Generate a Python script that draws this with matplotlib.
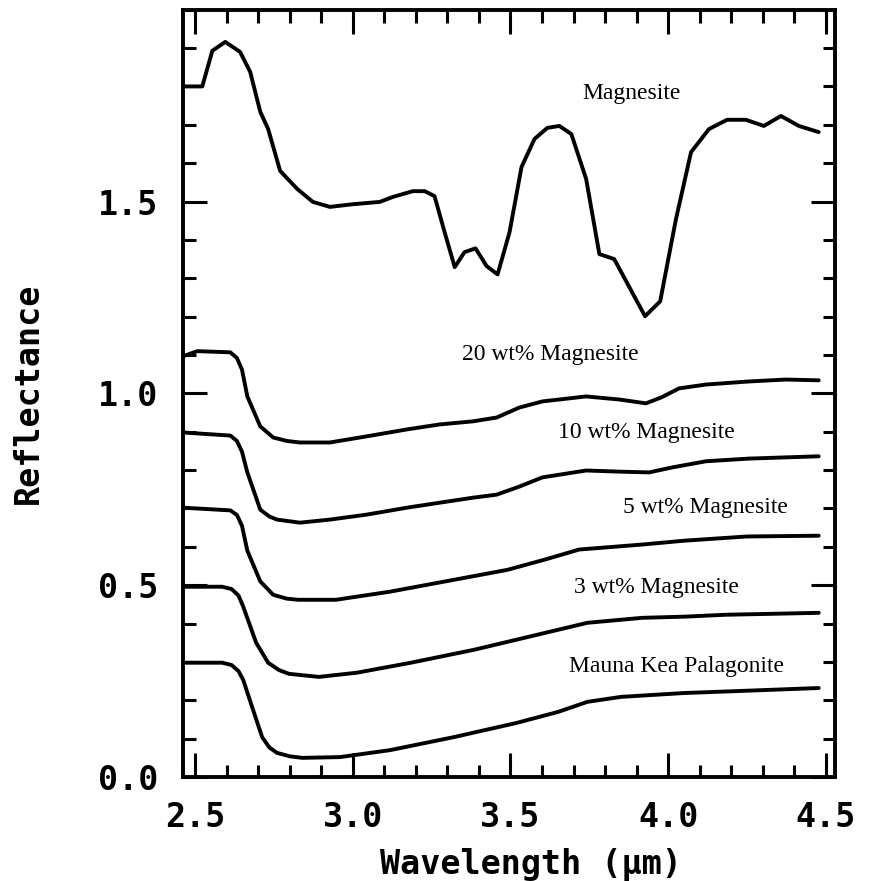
import matplotlib
matplotlib.use("Agg")
import matplotlib.pyplot as plt
from matplotlib.ticker import MultipleLocator

# spectra (wavelength in um, reflectance offset)
mag_x = [2.462, 2.522, 2.554, 2.595, 2.642, 2.674, 2.706, 2.731, 2.769, 2.823, 2.873,
         2.927, 3.0, 3.085, 3.127, 3.19, 3.228, 3.259, 3.291, 3.323, 3.354, 3.389,
         3.424, 3.459, 3.497, 3.535, 3.576, 3.617, 3.655, 3.693, 3.74, 3.782, 3.829,
         3.927, 3.975, 4.025, 4.073, 4.13, 4.187, 4.247, 4.304, 4.358, 4.415, 4.478]
mag_y = [1.80, 1.80, 1.893, 1.916, 1.89, 1.838, 1.734, 1.689, 1.58, 1.533, 1.499,
         1.486, 1.493, 1.499, 1.512, 1.527, 1.527, 1.514, 1.42, 1.329, 1.368, 1.378,
         1.332, 1.31, 1.42, 1.59, 1.663, 1.692, 1.697, 1.676, 1.559, 1.363, 1.35,
         1.201, 1.24, 1.454, 1.629, 1.689, 1.713, 1.713, 1.697, 1.723, 1.697, 1.681]

w20_x = [2.462, 2.506, 2.611, 2.632, 2.648, 2.665, 2.706, 2.747, 2.79, 2.832, 2.927,
         3.044, 3.171, 3.275, 3.38, 3.456, 3.528, 3.601, 3.74, 3.845, 3.93, 3.98,
         4.035, 4.12, 4.256, 4.373, 4.478]
w20_y = [1.097, 1.11, 1.107, 1.092, 1.062, 0.992, 0.914, 0.885, 0.876, 0.872, 0.872,
         0.888, 0.906, 0.919, 0.927, 0.937, 0.963, 0.979, 0.992, 0.984, 0.974, 0.99,
         1.013, 1.023, 1.031, 1.036, 1.034]

w10_x = [2.462, 2.611, 2.632, 2.648, 2.665, 2.706, 2.735, 2.759, 2.832, 2.927, 3.044,
         3.171, 3.275, 3.38, 3.456, 3.528, 3.601, 3.74, 3.845, 3.94, 4.013, 4.12,
         4.256, 4.478]
w10_y = [0.898, 0.89, 0.876, 0.848, 0.794, 0.697, 0.679, 0.671, 0.663, 0.671, 0.684,
         0.702, 0.715, 0.728, 0.736, 0.757, 0.781, 0.799, 0.796, 0.794, 0.807, 0.823,
         0.83, 0.836]

w5_x = [2.462, 2.611, 2.632, 2.648, 2.665, 2.706, 2.747, 2.79, 2.826, 2.946, 3.117,
        3.32, 3.49, 3.61, 3.718, 3.918, 4.051, 4.25, 4.478]
w5_y = [0.702, 0.695, 0.683, 0.655, 0.59, 0.51, 0.475, 0.465, 0.462, 0.462, 0.483,
        0.514, 0.540, 0.567, 0.593, 0.606, 0.616, 0.627, 0.629]

w3_x = [2.462, 2.585, 2.615, 2.637, 2.652, 2.693, 2.731, 2.765, 2.797, 2.892, 3.013,
        3.184, 3.386, 3.519, 3.652, 3.744, 3.918, 4.051, 4.184, 4.478]
w3_y = [0.496, 0.496, 0.49, 0.473, 0.444, 0.35, 0.298, 0.279, 0.269, 0.261, 0.272,
        0.298, 0.332, 0.358, 0.384, 0.402, 0.415, 0.418, 0.423, 0.428]

mk_x = [2.462, 2.585, 2.615, 2.637, 2.652, 2.68, 2.712, 2.735, 2.759, 2.8, 2.839,
        2.959, 3.117, 3.32, 3.519, 3.652, 3.744, 3.851, 4.051, 4.25, 4.478]
mk_y = [0.298, 0.298, 0.292, 0.276, 0.253, 0.183, 0.104, 0.077, 0.063, 0.054, 0.05,
        0.052, 0.07, 0.104, 0.141, 0.17, 0.196, 0.209, 0.219, 0.225, 0.232]

labels = ["Magnesite", "20 wt% Magnesite", "10 wt% Magnesite",
          "5 wt% Magnesite", "3 wt% Magnesite", "Mauna Kea Palagonite"]
label_x = [3.883, 3.627, 3.930, 4.120, 3.962, 4.028]
label_y = [1.781, 1.102, 0.898, 0.702, 0.493, 0.287]

fig = plt.figure(figsize=(8.69, 8.81), dpi=100)
ax = fig.add_axes([0.211, 0.118, 0.750, 0.871])

for xs, ys in [(mag_x, mag_y), (w20_x, w20_y), (w10_x, w10_y),
               (w5_x, w5_y), (w3_x, w3_y), (mk_x, mk_y)]:
    ax.plot(xs, ys, color="black", lw=2.8, solid_joinstyle="round",
            solid_capstyle="round")

for txt, tx, ty in zip(labels, label_x, label_y):
    ax.text(tx, ty, txt, ha="center", va="center", fontsize=17,
            family="Liberation Serif")

ax.set_xlim(2.462, 4.53)
ax.set_ylim(0, 2.0)

ax.xaxis.set_minor_locator(MultipleLocator(0.1))
ax.yaxis.set_minor_locator(MultipleLocator(0.1))
ax.set_yticks([0.0, 0.5, 1.0, 1.5])
ax.set_xticks([2.5, 3.0, 3.5, 4.0, 4.5])
ax.set_xticklabels(["2.5", "3.0", "3.5", "4.0", "4.5"])
ax.set_yticklabels(["0.0", "0.5", "1.0", "1.5"])

ax.tick_params(which="both", direction="in", top=True, right=True, width=2.2)
ax.tick_params(which="major", length=17, labelsize=24)
ax.tick_params(axis="x", which="major", pad=17)
ax.tick_params(axis="y", which="major", pad=18)
ax.tick_params(which="minor", length=9)
for lab in ax.get_xticklabels() + ax.get_yticklabels():
    lab.set_family("DejaVu Sans Mono")
    lab.set_weight("bold")

for s in ax.spines.values():
    s.set_linewidth(2.8)

ax.set_xlabel("Wavelength (\u00b5m)", fontsize=24, family="DejaVu Sans Mono",
              weight="bold")
ax.set_ylabel("Reflectance", fontsize=24, family="DejaVu Sans Mono", weight="bold")
ax.xaxis.set_label_coords(0.534, -0.092)
ax.yaxis.set_label_coords(-0.213, 0.5)

fig.savefig("out.png", dpi=100)
